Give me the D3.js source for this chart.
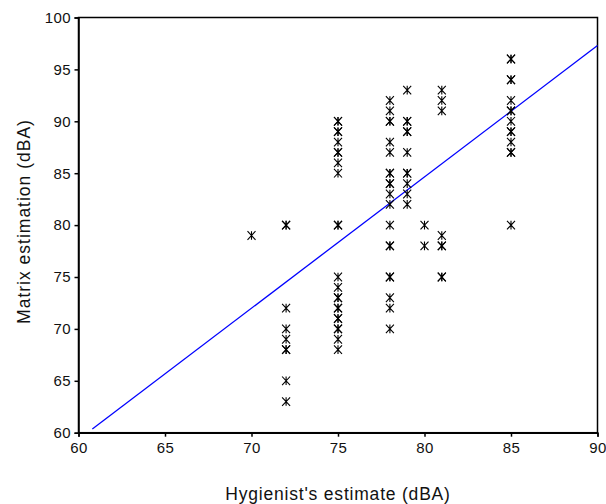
<!DOCTYPE html>
<html>
<head>
<meta charset="utf-8">
<script src="https://cdn.jsdelivr.net/npm/d3@7"></script>
<style>
  html, body { margin: 0; padding: 0; background: #fff; }
  svg { display: block; font-family: "Liberation Sans", Arial, sans-serif; }
</style>
</head>
<body>
<svg id="chart" width="606" height="504"></svg>
<script>
// Hygienist's estimate (x) and matrix estimation (y), one entry per point
const hygienist = [
  70,
  72, 72, 72, 72, 72, 72, 72, 72, 72,
  75, 75, 75, 75, 75, 75, 75, 75, 75, 75, 75,
  75, 75, 75, 75, 75, 75, 75, 75, 75, 75, 75, 75,
  78, 78, 78, 78, 78, 78, 78, 78, 78, 78, 78, 78, 78, 78, 78, 78, 78, 78, 78, 78,
  79, 79, 79, 79, 79, 79, 79, 79, 79, 79, 79,
  80, 80,
  81, 81, 81, 81, 81, 81, 81, 81,
  85, 85, 85, 85, 85, 85, 85, 85, 85, 85, 85, 85, 85, 85
];
const matrix = [
  79,
  80, 80, 72, 70, 69, 68, 68, 65, 63,
  90, 90, 89, 89, 88, 87, 87, 86, 85, 80, 80,
  75, 74, 73, 73, 72, 72, 71, 71, 70, 70, 69, 68,
  92, 91, 90, 90, 88, 87, 85, 85, 84, 84, 83, 82, 80, 78, 78, 75, 75, 73, 72, 70,
  93, 90, 90, 89, 89, 87, 85, 85, 84, 83, 82,
  80, 78,
  93, 92, 91, 79, 78, 78, 75, 75,
  96, 96, 94, 94, 92, 91, 91, 90, 89, 89, 88, 87, 87, 80
];
// Fitted line endpoints
const fitX = [60.8, 90];
const fitY = [60.35, 97.3];

const xTicks = [60, 65, 70, 75, 80, 85, 90];
const yTicks = [60, 65, 70, 75, 80, 85, 90, 95, 100];

const svg = d3.select("#chart");
const pL = 78.5, pR = 597.5, pT = 17.5, pB = 432.7;

const x = d3.scaleLinear().domain([60, 90]).range([pL, pR]);
const y = d3.scaleLinear().domain([60, 100]).range([pB, pT]);

// frame
svg.append("rect")
  .attr("x", pL).attr("y", pT)
  .attr("width", pR - pL).attr("height", pB - pT)
  .attr("fill", "none").attr("stroke", "#000").attr("stroke-width", 1.5);

const xAxis = svg.append("g")
  .attr("transform", `translate(0,${pB})`)
  .call(d3.axisBottom(x).tickValues(xTicks).tickSize(4).tickPadding(6).tickFormat(d3.format("d")));
const yAxis = svg.append("g")
  .attr("transform", `translate(${pL},0)`)
  .call(d3.axisLeft(y).tickValues(yTicks).tickSize(4).tickPadding(3.5).tickFormat(d3.format("d")));

[xAxis, yAxis].forEach(g => {
  g.select(".domain").attr("stroke", "#000").attr("stroke-width", 1.5);
  g.selectAll(".tick line").attr("stroke", "#000").attr("stroke-width", 1.5);
  g.selectAll(".tick text")
    .attr("fill", "#111")
    .style("font-family", '"Liberation Sans", Arial, sans-serif')
    .style("font-size", "15px")
    .style("letter-spacing", "0.4px");
});

// fitted line
svg.append("path")
  .datum(fitX.map((d, i) => [d, fitY[i]]))
  .attr("d", d3.line().x(d => x(d[0])).y(d => y(d[1])))
  .attr("fill", "none").attr("stroke", "#0000ff").attr("stroke-width", 1.3);

// asterisk markers
const sx = 4, sy = 4.3;
const star = `M0,${-sy}L0,${sy}M${-sx},${-sy}L${sx},${sy}M${-sx},${sy}L${sx},${-sy}`;
svg.append("g").selectAll("path")
  .data(hygienist.map((d, i) => [d, matrix[i]]))
  .join("path")
  .attr("transform", d => `translate(${x(d[0])},${y(d[1])})`)
  .attr("d", star)
  .attr("fill", "none").attr("stroke", "#000").attr("stroke-width", 1.1);

// axis titles
svg.append("text")
  .attr("x", (pL + pR) / 2).attr("y", 500)
  .attr("text-anchor", "middle")
  .style("font-size", "17.5px").style("letter-spacing", "0.8px").attr("fill", "#111")
  .text("Hygienist's estimate (dBA)");

svg.append("text")
  .attr("transform", `translate(29.5,221.5) rotate(-90)`)
  .attr("text-anchor", "middle")
  .style("font-size", "17.5px").style("letter-spacing", "1px").attr("fill", "#111")
  .text("Matrix estimation (dBA)");
</script>
</body>
</html>
